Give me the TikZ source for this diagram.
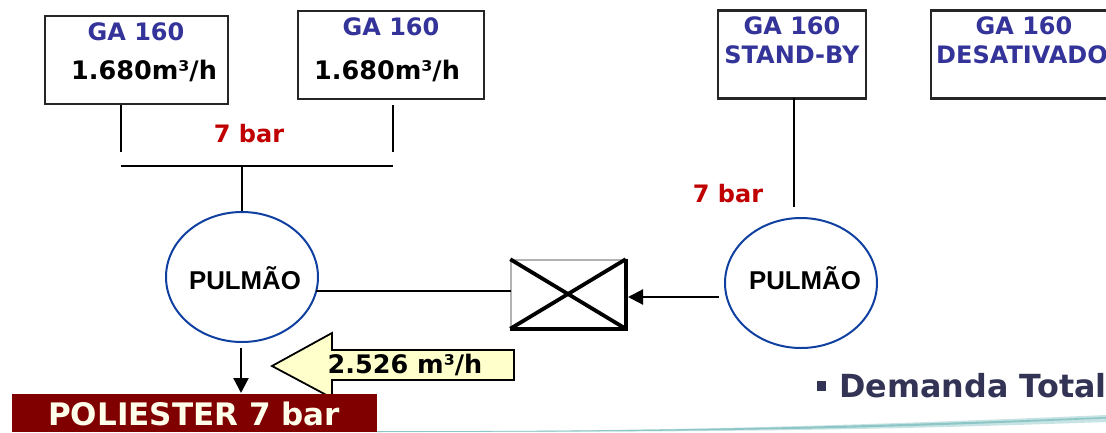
\documentclass[tikz,border=0pt]{standalone}
\usepackage{fontspec}
\setmainfont{DejaVu Sans}
\newfontfamily\arialb{Liberation Sans}
\usetikzlibrary{shapes.geometric,arrows.meta}
\definecolor{gablue}{HTML}{333399}
\definecolor{redbar}{HTML}{C00000}
\definecolor{maroon}{HTML}{800000}
\definecolor{paleyel}{HTML}{FFFFCC}
\definecolor{demand}{HTML}{333355}
\definecolor{circblue}{HTML}{0F3FA0}
\tikzset{
 x=1pt,y=-1pt,
 gabox/.style={draw=black!85,line width=2.2pt,rectangle,inner sep=0pt},
 tank/.style={draw=circblue,line width=2pt,ellipse,inner sep=0pt,minimum width=152pt,minimum height=130pt},
 gatxt/.style={text=gablue,font=\fontsize{24}{28}\selectfont\bfseries,inner sep=0pt,align=center},
 flowtxt/.style={text=black,font=\fontsize{25.5}{30}\selectfont\bfseries,inner sep=0pt},
 bartxt/.style={text=redbar,font=\fontsize{24}{28}\selectfont\bfseries,inner sep=0pt},
 tanktxt/.style={text=black,font=\arialb\fontsize{25.8}{30}\selectfont\bfseries,inner sep=0pt},
 pipe/.style={draw=black,line width=1.7pt},
 flow/.style={draw=black,line width=2.2pt,-{Triangle[length=15pt,width=15pt]}},
}
\begin{document}
\begin{tikzpicture}
\useasboundingbox (0,0) rectangle (1106,432);
\clip (0,0) rectangle (1106,432);
% swoosh at the bottom
\fill[teal!22] (377,431) .. controls (600,432) and (800,428) .. (1106,415) -- (1106,422) .. controls (850,431) and (700,432) .. (377,432) -- cycle;
\fill[teal!45] (377,431) .. controls (600,431.5) and (800,429) .. (1106,417) -- (1106,418.5) .. controls (850,430) and (700,431.5) .. (377,432) -- cycle;
% compressors
\node[gabox,minimum width=183pt,minimum height=88pt] (c1) at (136.5,60) {};
\node[gabox,minimum width=186pt,minimum height=88pt] (c2) at (391,55) {};
\node[gabox,minimum width=148pt,minimum height=88pt] (c3) at (792,54.5) {};
\node[gabox,minimum width=230pt,minimum height=88pt,anchor=west] (c4) at (930,54.5) {};
\node[gatxt] (t1) at (136,32) {GA 160};
\node[flowtxt] (f1) at (144,71) {1.680m³/h};
\node[gatxt] (t2) at (391,27) {GA 160};
\node[flowtxt] (f2) at (387,71) {1.680m³/h};
\node[gatxt] (t3) at (792,26) {GA 160};
\node[gatxt] (t3b) at (792,55) {STAND-BY};
\node[gatxt] (t4) at (1024,26) {GA 160};
\node[gatxt,anchor=west] (t4b) at (936,55) {DESATIVADO};
% pressure labels
\node[bartxt] (b1) at (249,134) {7 bar};
\node[bartxt] (b2) at (728,194) {7 bar};
% tanks
\node[tank] (p1) at (242,277) {};
\node[tank] (p2) at (801,283) {};
\node[tanktxt] (p1t) at (245,278) {PULMÃO};
\node[tanktxt] (p2t) at (805,278) {PULMÃO};
% valve
\node[draw=black!30,fill=white,line width=1.5pt,rectangle,minimum width=114pt,minimum height=68pt,inner sep=0pt] (v) at (568,294) {};
\draw[black,line width=3.6pt] (v.north east) -- (v.south east) -- (v.south west);
\draw[black,line width=3.8pt] (v.north west) -- (v.south east) (v.north east) -- (v.south west);
% collector and branches
\coordinate (h1) at (121,166);
\coordinate (h2) at (393,166);
\coordinate (h3) at (242,166);
\coordinate (d1) at (121,152);
\coordinate (d2) at (393,152);
\coordinate (u1) at (121,105);
\coordinate (u2) at (393,105);
\draw[pipe] (u1) -- (d1);
\draw[pipe] (u2) -- (d2);
\draw[pipe] (h1) -- (h2);
\draw[pipe] (h3) -- (p1.north);
\coordinate (c3d) at (794,98);
\coordinate (c3e) at (794,207);
\draw[pipe] (c3d) -- (c3e);
\coordinate (vl) at (511,291);
\coordinate (p1r) at (316,291);
\draw[pipe] (p1r) -- (vl);
\coordinate (a2s) at (719,297);
\coordinate (a2e) at (628,297);
\draw[flow] (a2s) -- (a2e);
% callout arrow
\draw[draw=black,fill=paleyel,line width=1.8pt,line join=miter] (514,350) -- (332,350) -- (332,333) -- (272,366) -- (332,398) -- (332,380) -- (514,380) -- cycle;
\node[flowtxt] (rate) at (405,365) {2.526 m³/h};
% bottom
\node[fill=maroon,rectangle,minimum width=365pt,minimum height=38pt,inner sep=0pt,anchor=north west] (pol) at (12,394) {};
\node[text=white!92!yellow,font=\fontsize{31}{35}\selectfont\bfseries,inner sep=0pt] (polt) at (194,414) {POLIESTER 7 bar};
\coordinate (a1s) at (241,348);
\coordinate (a1e) at (241,393);
\draw[flow] (a1s) -- (a1e);
% bullet
\node[text=demand,font=\fontsize{31.8}{36}\selectfont\bfseries,inner sep=0pt,anchor=west] (dem) at (839,386) {Demanda Total};
\node[fill=demand,rectangle,minimum width=9.5pt,minimum height=9.5pt,inner sep=0pt] (bul) at (821.5,386) {};
\end{tikzpicture}
\end{document}
